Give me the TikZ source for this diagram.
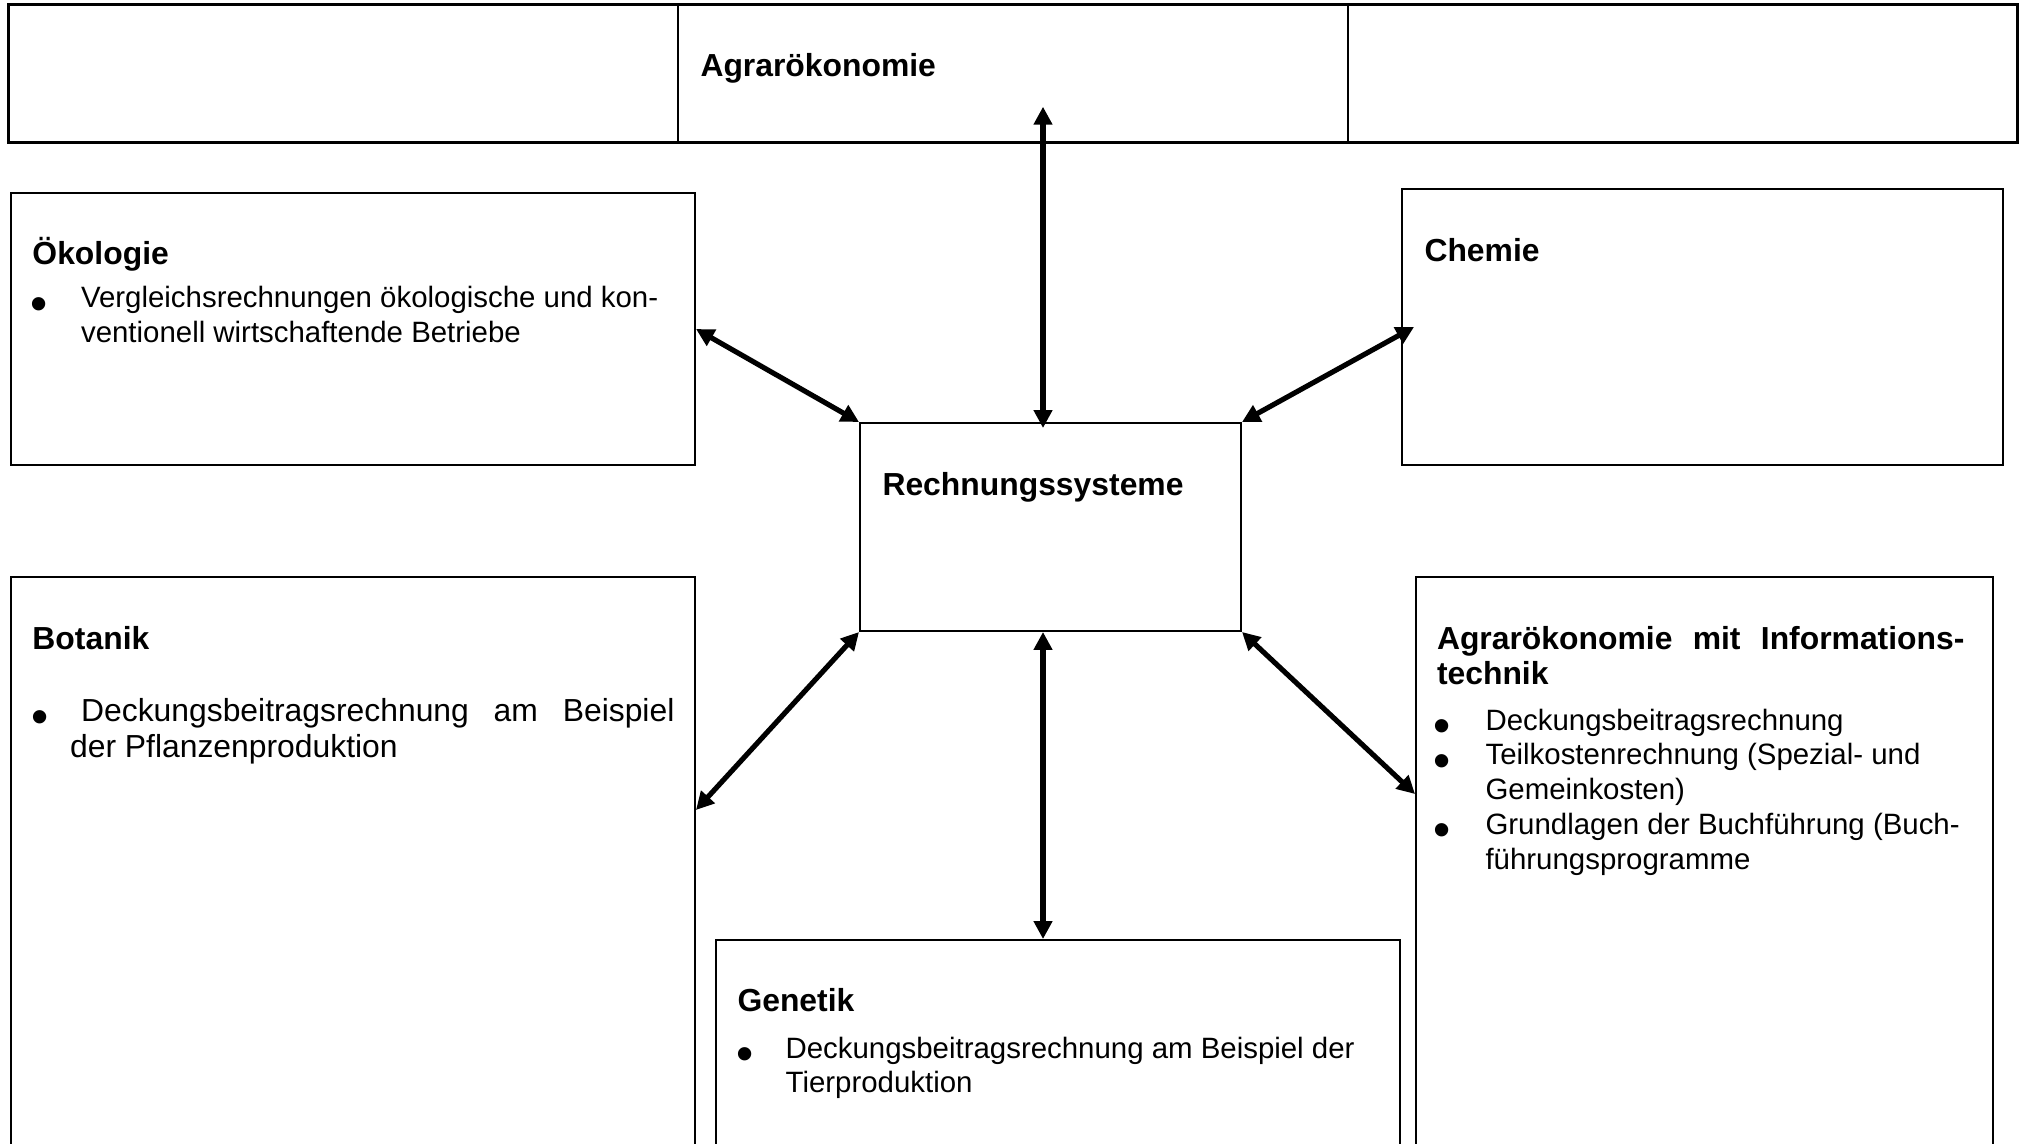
\documentclass[tikz,border=0pt]{standalone}
\usepackage{fontspec}
\setmainfont{Liberation Sans}
\usetikzlibrary{fit,calc,arrows.meta}

% a round list mark, larger than the font's own bullet
\newcommand\dotmark{\smash{\raisebox{-5pt}{\fontsize{20}{20}\selectfont •}}}
% a list mark centred 1.5pt from the left, then the text starting #1 from the left
\newcommand\bulletrow[2]{\makebox[#1][l]{\hspace*{1.5pt}\makebox[0pt]{\dotmark}}#2}

\begin{document}
\begin{tikzpicture}[x=0.408pt,y=-0.408pt,
  box/.style={draw, line width=0.8pt, inner sep=0pt, rectangle},
  cell/.style={draw, line width=0.6pt, inner sep=0pt, rectangle},
  head/.style={inner sep=0pt, anchor=base west,
    font=\fontsize{13}{14.5}\selectfont\bfseries},
  body/.style={inner sep=0pt, anchor=base west,
    font=\fontsize{12}{14.2}\selectfont},
  link/.style={line width=2.1pt,
    {Triangle[length=7.3pt,width=7.3pt]}-{Triangle[length=7.3pt,width=7.3pt]}},
]
\fill[white] (0,0) rectangle (2022,1144);
\clip (0,0) rectangle (2022,1144);

% top row of three cells
\node[cell, fit={(9,5) (678,142)}] (agrL) {};
\node[cell, fit={(678,5) (1348,142)}] (agrM) {};
\node[cell, fit={(1348,5) (2017,142)}] (agrR) {};
\draw[line width=1pt] (agrL.north west) rectangle (agrR.south east);
\node[head] (agrTitle) at (700,77) {Agrarökonomie};

% boxes
\node[box, fit={(11,193) (695,465)}] (oeko) {};
\node[box, fit={(1402,189) (2003,465)}] (chem) {};
\node[box, fit={(860,423) (1241,631)}] (rech) {};
\node[box, fit={(11,577) (695,1170)}] (bot) {};
\node[box, fit={(716,940) (1400,1170)}] (gen) {};
\node[box, fit={(1416,577) (1993,1170)}] (info) {};

% texts
\node[head] (oekoHead) at (32,265) {Ökologie};
\node[body] (oekoList) at (35,308) {\begin{tabular}[t]{@{}l@{}}
  \bulletrow{18.6pt}{Vergleichsrechnungen ökologische und kon-}\\
  \hspace*{18.6pt}ventionell wirtschaftende Betriebe
\end{tabular}};

\node[head] (chemHead) at (1424,262) {Chemie};

\node[head] (rechHead) at (882,496) {Rechnungssysteme};

\node[head] (botHead) at (32,649) {Botanik};
\node[body, font=\fontsize{13}{14.7}\selectfont] (botList) at (36,721) {\begin{tabular}[t]{@{}l@{}}
  \bulletrow{18.2pt}{\makebox[242.1pt][s]{Deckungsbeitragsrechnung\hfill am\hfill Beispiel}}\\
  \hspace*{13.7pt}der Pflanzenproduktion
\end{tabular}};

\node[head] (genHead) at (737,1011) {Genetik};
\node[body] (genList) at (741,1058) {\begin{tabular}[t]{@{}l@{}}
  \bulletrow{18pt}{Deckungsbeitragsrechnung am Beispiel der}\\
  \hspace*{18pt}Tierproduktion
\end{tabular}};

\node[head] (infoHead) at (1436.5,649) {\begin{tabular}[t]{@{}l@{}}
  \makebox[215.2pt][s]{Agrarökonomie\hfill mit\hfill Informations-}\\
  technik
\end{tabular}};
\node[body] (infoList) at (1438,730) {\begin{tabular}[t]{@{}l@{}}
  \bulletrow{19.2pt}{Deckungsbeitragsrechnung}\\
  \bulletrow{19.2pt}{Teilkostenrechnung (Spezial- und}\\
  \hspace*{19.2pt}Gemeinkosten)\\
  \bulletrow{19.2pt}{Grundlagen der Buchführung (Buch-}\\
  \hspace*{19.2pt}führungsprogramme
\end{tabular}};

% connectors
\draw[link] ($(agrM.south)+(30,-36)$) -- ($(rech.north)+(-7.5,6)$);
\draw[link] (oeko.east) -- (rech.north west);
\draw[link] (rech.north east) -- ($(chem.west)+(13,0)$);
\draw[link] (rech.south west) -- ($(bot.north east)+(0,234)$);
\draw[link] ($(rech.south)+(-7.5,0)$) -- ($(gen.north)+(-15,0)$);
\draw[link] (rech.south east) -- ($(info.north west)+(0,218)$);
\end{tikzpicture}
\end{document}
